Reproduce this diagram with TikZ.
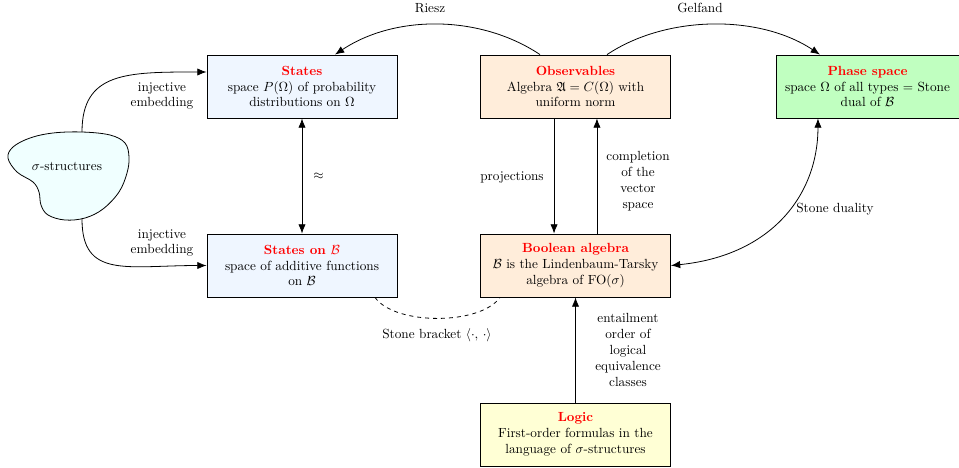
\documentclass[tikz,border=0pt]{standalone}
\usepackage{amssymb}
\usetikzlibrary{arrows.meta}
\definecolor{cstate}{RGB}{239,246,255}
\definecolor{cobs}{RGB}{255,237,218}
\definecolor{cphase}{RGB}{192,255,192}
\definecolor{clogic}{RGB}{255,255,213}
\definecolor{cblob}{RGB}{240,255,255}
\begin{document}
\begin{tikzpicture}[x=0.755pt,y=0.755pt, line width=0.6pt,
  >={Latex[length=7pt,width=5.5pt]},
  box/.style={draw, align=center, minimum width=143.5pt, minimum height=47.6pt, inner sep=2pt},
  lbl/.style={align=center}]
\useasboundingbox (0,0) rectangle (959,-467);
\node[box, fill=cstate] (states) at (302,-86.5) {\textcolor{red}{\textbf{States}}\\ space $P(\Omega)$ of probability\\ distributions on $\Omega$};
\node[box, fill=cobs] (obs) at (575.5,-86.5) {\textcolor{red}{\textbf{Observables}}\\ Algebra $\mathfrak{A}=C(\Omega)$ with\\ uniform norm};
\node[box, fill=cphase, minimum width=138pt] (phase) at (867.5,-86.5) {\textcolor{red}{\textbf{Phase space}}\\ space $\Omega$ of all types $=$ Stone\\ dual of $\mathcal{B}$};
\node[box, fill=cstate] (statesb) at (302,-265.5) {\textcolor{red}{\textbf{States on $\mathcal{B}$}}\\ space of additive functions\\ on $\mathcal{B}$};
\node[box, fill=cobs] (bool) at (575.5,-265.5) {\textcolor{red}{\textbf{Boolean algebra}}\\ $\mathcal{B}$ is the Lindenbaum-Tarsky\\ algebra of FO$(\sigma)$};
\node[box, fill=clogic] (logic) at (575.5,-434.5) {\textcolor{red}{\textbf{Logic}}\\ First-order formulas in the\\ language of $\sigma$-structures};
% blob
\draw[fill=cblob] plot[smooth cycle, tension=0.6] coordinates {(82,-132) (110,-135) (125,-143) (129,-157) (127,-173) (119,-192) (103,-209) (85,-218) (65,-220) (48,-215) (41,-205) (39,-192) (33,-182) (17,-172) (8,-158) (13,-147) (30,-138) (53,-133)};
\node (sig) at (67,-166) {$\sigma$-structures};
\coordinate (sigtop) at (82,-132);
\coordinate (sigbot) at (82,-219);
% connectors
\draw[->] (sigtop) .. controls +(0,60) and +(-80,0) .. ([yshift=10.95pt]states.west);
\draw[->] (sigbot) .. controls +(0,-60) and +(-80,0) .. (statesb.west);
\node[lbl] (inj1) at (162,-96) {injective\\ embedding};
\node[lbl] (inj2) at (162,-243) {injective\\ embedding};
\draw[<->] (states) -- (statesb) node[midway, right=5pt] {$\approx$};
\draw[->] ([xshift=-26.8pt]obs.north) .. controls +(-60,40) and +(60,40) .. ([xshift=24.9pt]states.north);
\node (riesz) at (430,-8) {Riesz};
\draw[->] ([xshift=23.8pt]obs.north) .. controls +(60,40) and +(-60,40) .. ([xshift=-35.9pt]phase.north);
\node (gelfand) at (700,-8) {Gelfand};
\draw[->] ([xshift=-16.2pt]obs.south) -- ([xshift=-16.2pt]bool.north);
\draw[->] ([xshift=16.2pt]bool.north) -- ([xshift=16.2pt]obs.south);
\node[lbl] (proj) at (512,-178) {projections};
\node[lbl] (compl) at (638,-181) {completion\\ of the\\ vector\\ space};
\draw[<->] ([xshift=-37.4pt]phase.south) .. controls +(0,-77) and +(100,10) .. (bool.east);
\node[lbl] (sd) at (835,-209) {Stone duality};
\draw[->] (logic) -- (bool);
\node[lbl] (ent) at (628,-350) {entailment\\ order of\\ logical\\ equivalence\\ classes};
\draw[dashed] ([xshift=55.1pt]statesb.south) .. controls +(20,-28) and +(-20,-28) .. ([xshift=-57pt]bool.south);
\node (sb) at (437,-335) {Stone bracket $\langle\cdot,\,\cdot\rangle$};
\end{tikzpicture}
\end{document}
